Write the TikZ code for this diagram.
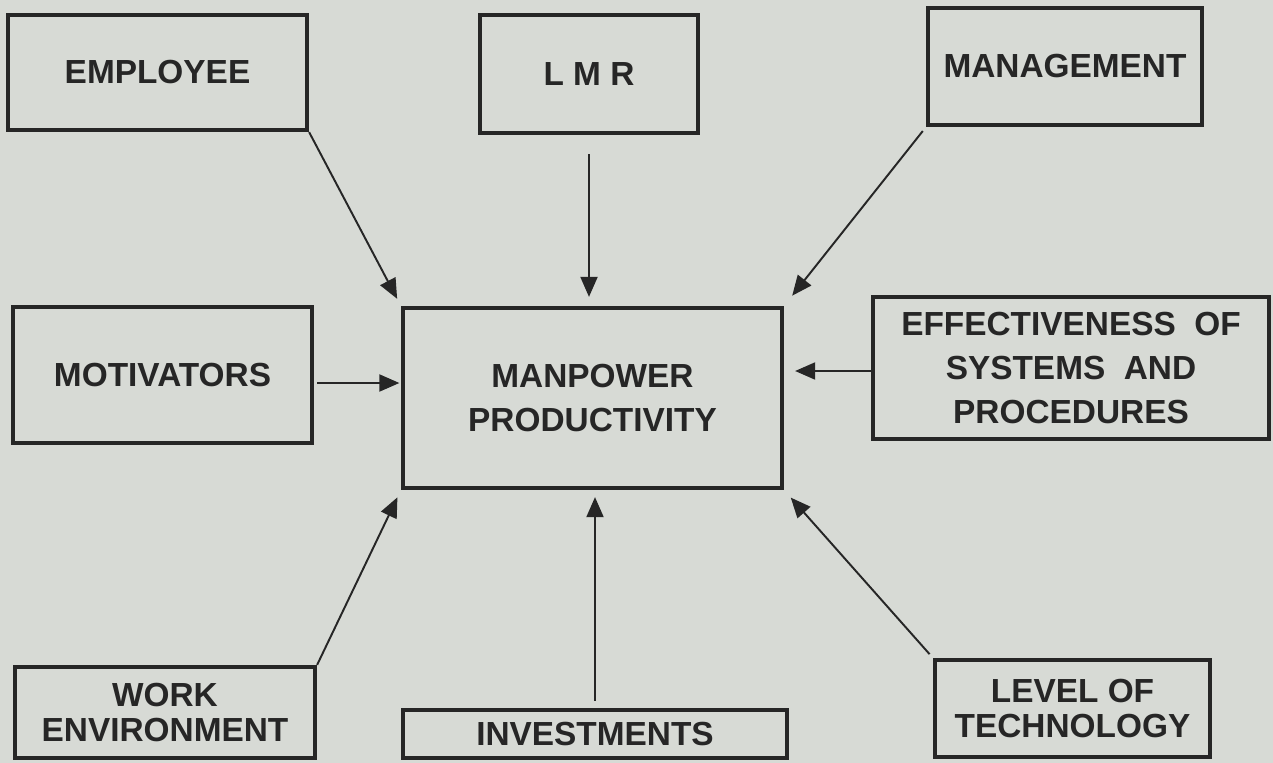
\documentclass[tikz,border=0pt]{standalone}
\usepackage{fontspec}
\setmainfont{Liberation Sans}
\usetikzlibrary{positioning, arrows.meta, calc}
\definecolor{mpPaper}{HTML}{D7DAD5}
\definecolor{mpInk}{HTML}{262626}
\tikzset{
  mpBase/.style={rectangle, draw=mpInk, line width=2.4pt, align=center,
                 inner sep=2pt, text=mpInk,
                 font=\fontsize{19}{25}\selectfont\bfseries},
  mpTight/.style={mpBase, font=\fontsize{19}{19.5}\selectfont\bfseries},
  mpArrow/.style={-{Triangle[length=4mm, width=3.4mm]}, line width=1.1pt, draw=mpInk},
}

\begin{document}
\begin{tikzpicture}[
    x=0.2mm, y=-0.2mm,
    wide/.style={minimum width=59.8mm}
]

  % ─── Page ─────────────────────────────────────────────────────────────────────
  \fill[mpPaper] (0,0) rectangle (1273,763);
  \useasboundingbox (0,0) rectangle (1273,763);

  % ─── Centre: the outcome ──────────────────────────────────────────────────────
  \node[mpBase, minimum width=75.8mm, minimum height=36mm] (mpp) at (592.5,398) {MANPOWER\\PRODUCTIVITY};

  % ─── Top row ──────────────────────────────────────────────────────────────────
  \node[mpBase, wide, minimum height=23mm]                     (emp)   at (157.5,72.5) {EMPLOYEE};
  \node[mpBase, minimum width=43.6mm, minimum height=23.6mm]   (lmr)   at (589,74)     {L M R};
  \node[mpBase, minimum width=54.8mm, minimum height=23.4mm]   (mgmt)  at (1065,66.5)  {MANAGEMENT};

  % ─── Middle row ───────────────────────────────────────────────────────────────
  \node[mpBase, wide, minimum height=27.2mm]                   (motiv) at (162.5,375)  {MOTIVATORS};
  \node[mpBase, minimum width=79.2mm, minimum height=28.4mm]   (eff)   at (1071,368)
        {EFFECTIVENESS~~OF\\SYSTEMS~~AND\\PROCEDURES};

  % ─── Bottom row ───────────────────────────────────────────────────────────────
  \node[mpTight, minimum width=60mm, minimum height=18.2mm]    (work)  at (165,712.5)  {WORK\\ENVIRONMENT};
  \node[mpBase, minimum width=76.8mm, minimum height=9.6mm]    (inv)   at (595,734)    {INVESTMENTS};
  \node[mpTight, minimum width=55mm, minimum height=19.4mm]    (tech)  at (1072.5,708.5) {LEVEL OF\\TECHNOLOGY};

  % ─── Influences, all pointing at the centre ───────────────────────────────────
  \draw[mpArrow, shorten >=1.6mm] (emp.south east) -- (mpp.north west);
  \draw[mpArrow, shorten <=3.8mm, shorten >=1.8mm] (lmr.south) -- (lmr.south |- mpp.north);
  \draw[mpArrow, shorten <=1mm, shorten >=2.6mm] (mgmt.south west) -- (mpp.north east);

  \draw[mpArrow, shorten <=0.6mm, shorten >=0.3mm]
        ([yshift=-1.6mm]motiv.east) -- ([yshift=-1.6mm]motiv.east -| mpp.west);
  \draw[mpArrow, shorten >=2.2mm] ([yshift=-0.6mm]eff.west) -- ([yshift=-0.6mm]eff.west -| mpp.east);

  \draw[mpArrow, shorten >=1.6mm] (work.north east) -- (mpp.south west);
  \draw[mpArrow, shorten <=1.4mm, shorten >=1.4mm] (inv.north) -- (inv.north |- mpp.south);
  \draw[mpArrow, shorten <=1mm, shorten >=2mm] (tech.north west) -- (mpp.south east);

\end{tikzpicture}
\end{document}
